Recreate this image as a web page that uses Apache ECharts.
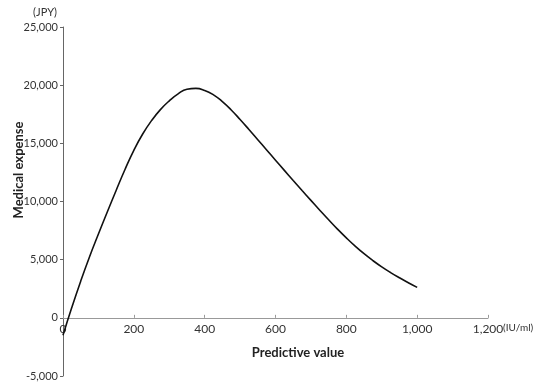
<!DOCTYPE html>
<html>
<head>
<meta charset="utf-8">
<script src="https://cdn.jsdelivr.net/npm/echarts@6/dist/echarts.min.js"></script>
<style>html,body{margin:0;padding:0;background:#fff}#c{width:536px;height:382px}</style>
</head>
<body>
<div id="c"></div>
<script>
const xValues = [0,25,50,75,100,125,150,175,200,225,250,275,300,325,350,375,400,425,450,475,500,525,550,575,600,625,650,675,700,725,750,775,800,825,850,875,900,925,950,975,1000];
const expense = [-1500,900,3150,5250,7200,9100,10950,12750,14400,15800,16950,17900,18650,19250,19650,19720,19550,19170,18590,17870,17050,16190,15310,14430,13550,12675,11805,10945,10095,9255,8430,7630,6870,6160,5510,4920,4380,3890,3440,3020,2620];
const xTicks = {min:0, max:1200, interval:200};
const yTicks = {min:-5000, max:25000, interval:5000};
const xTitle = 'Predictive value';
const yTitle = 'Medical expense';
const xUnit = '(IU/ml)';
const yUnit = '(JPY)';

const fmt = v => Number(v).toLocaleString('en-US');
const font = 'Lato, "Open Sans", sans-serif';
const gridTop = 27, gridBottom = 6, H = 382;
const plotH = H - gridTop - gridBottom;
const zeroOffset = -plotH * (0 - yTicks.min) / (yTicks.max - yTicks.min);
const chart = echarts.init(document.getElementById('c'));
chart.setOption({
  animation:false,
  backgroundColor:'#fff',
  grid:{left:63, top:gridTop, right:48, bottom:gridBottom, outerBoundsMode:'none', containLabel:false},
  xAxis:{
    type:'value', min:xTicks.min, max:xTicks.max, interval:xTicks.interval,
    offset:zeroOffset,
    axisLine:{onZero:false, lineStyle:{color:'#999', width:1}},
    axisTick:{show:true, inside:true, length:3, lineStyle:{color:'#999'}},
    axisLabel:{formatter:fmt, color:'#333', fontSize:12, fontFamily:font, margin:5},
    splitLine:{show:false},
    name:xUnit, nameLocation:'end', nameGap:15, nameMoveOverlap:false,
    nameTextStyle:{color:'#333', fontSize:10, fontFamily:font, align:'left', verticalAlign:'top', padding:[5,0,0,0]}
  },
  yAxis:{
    type:'value', min:yTicks.min, max:yTicks.max, interval:yTicks.interval,
    axisLine:{show:true, lineStyle:{color:'#666', width:1}},
    axisTick:{show:true, length:3, lineStyle:{color:'#666'}},
    axisLabel:{formatter:fmt, color:'#333', fontSize:11, fontFamily:font, margin:5},
    splitLine:{show:false},
    name:yUnit, nameLocation:'end', nameGap:9, nameMoveOverlap:false,
    nameTextStyle:{color:'#333', fontSize:11, fontFamily:font, align:'right', padding:[0,6,0,0]}
  },
  graphic:[
    {type:'text', x:19, y:170, rotation:Math.PI/2,
     style:{text:yTitle, fill:'#222', font:'bold 13px '+font, align:'center', verticalAlign:'middle'}},
    {type:'text', x:298, y:353,
     style:{text:xTitle, fill:'#222', font:'bold 13px '+font, align:'center', verticalAlign:'middle'}}
  ],
  series:[{
    type:'line', smooth:true, showSymbol:false,
    data:xValues.map((x,i)=>[x, expense[i]]),
    lineStyle:{color:'#111', width:1.6}
  }]
});
</script>
</body>
</html>
